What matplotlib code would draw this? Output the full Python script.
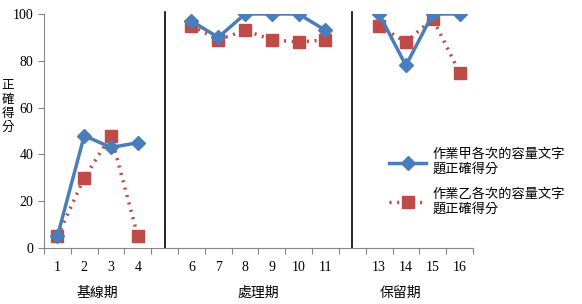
import numpy as np
import matplotlib.pyplot as plt
import matplotlib.transforms as mtransforms

plt.rcParams['font.family'] = ['Liberation Serif', 'Noto Sans CJK TC', 'DejaVu Sans']

# sessions 1..16, 5 and 12 are the gaps between phases
sessions = np.arange(1, 17)
tick_labels = ['1', '2', '3', '4', '', '6', '7', '8', '9', '10', '11', '', '13', '14', '15', '16']
task_a = [5, 48, 43, 45, np.nan, 97, 90, 100, 100, 100, 93, np.nan, 100, 78, 100, 100]
task_b = [5, 30, 48, 5, np.nan, 95, 89, 93, 89, 88, 89, np.nan, 95, 88, 98, 75]
phases = ['基線期', '處理期', '保留期']
phase_pos = [2.5, 8.5, 13.8]
phase_lines = [5, 12]
label_a = '作業甲各次的容量文字\n題正確得分'
label_b = '作業乙各次的容量文字\n題正確得分'

cjk = ['Noto Sans CJK TC', 'DejaVu Sans']

fig = plt.figure(figsize=(5.82, 3.04), dpi=100)
ax = fig.add_axes([0.0756, 0.184, 0.737, 0.770])

ax.plot(sessions, task_a, color='#4a7ebb', lw=2.5, marker='D', ms=7,
        label=label_a, zorder=3)
ax.plot(sessions, task_b, color='#be4b48', lw=2.5, ls=(0, (0.6, 1.6)),
        marker='s', ms=8, label=label_b, zorder=2)

for x in phase_lines:
    ax.axvline(x, ymin=0, ymax=1.01, color='black', lw=1.2, clip_on=False)

ax.set_xlim(0.5, 16.5)
ax.set_ylim(0, 100)
ax.set_yticks(range(0, 101, 20))
ax.set_xticks(np.arange(0.5, 17, 1))
ax.set_xticklabels([])
ax.set_xticks(sessions, minor=True)
ax.set_xticklabels(tick_labels, minor=True)
ax.tick_params(axis='x', which='minor', length=0, pad=9, labelsize=10)
ax.tick_params(axis='x', which='major', length=4, color='#868686')
ax.tick_params(axis='y', length=4, color='#868686', labelsize=10)

for s in ['top', 'right']:
    ax.spines[s].set_visible(False)
for s in ['left', 'bottom']:
    ax.spines[s].set_color('#868686')

trans = mtransforms.blended_transform_factory(ax.transData, ax.transAxes)
for name, x in zip(phases, phase_pos):
    ax.text(x, -0.19, name, transform=trans, ha='center', va='center',
            fontsize=10, family=cjk)

fig.text(0.013, 0.65, '正\n確\n得\n分', ha='center', va='center',
         fontsize=9, family=cjk, linespacing=1.1)

ax.legend(loc='upper left', bbox_to_anchor=(0.66, 0.53),
          bbox_transform=fig.transFigure, frameon=False,
          prop={'family': cjk, 'size': 9.5}, handlelength=2.8,
          labelspacing=0.9, borderaxespad=0, handletextpad=0.5)

fig.savefig('out.png', dpi=100)
